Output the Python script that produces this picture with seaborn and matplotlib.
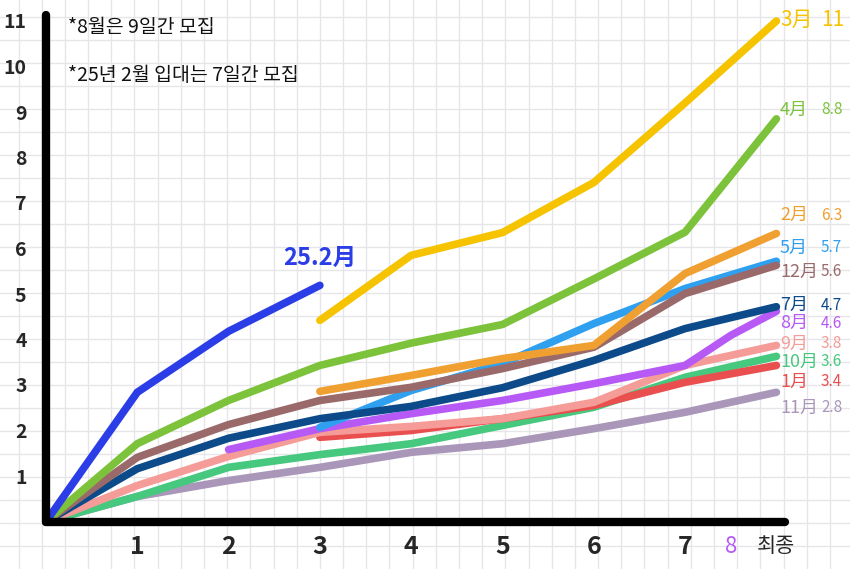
import numpy as np
import pandas as pd
import matplotlib
matplotlib.use('Agg')
import matplotlib.pyplot as plt
import seaborn as sns

# x positions: day 1..7 and the final count ("최종") at 8
days = [0, 1, 2, 3, 4, 5, 6, 7, 8]
nan = np.nan

# values
feb25 = [0, 2.84, 4.18, 5.19]                       # 25.2月
mar = [nan, nan, nan, 4.42, 5.85, 6.35, 7.45, 9.2, 11.0]
apr = [0, 1.71, 2.66, 3.43, 3.92, 4.33, 5.33, 6.36, 8.85]
feb = [nan, nan, nan, 2.86, 3.21, 3.58, 3.87, 5.45, 6.33]
may = [nan, nan, nan, 2.07, 2.88, 3.47, 4.35, 5.12, 5.72]
dec = [0, 1.41, 2.13, 2.66, 2.95, 3.36, 3.83, 5.01, 5.63]
jul = [0, 1.16, 1.83, 2.26, 2.53, 2.94, 3.54, 4.24, 4.72]
aug_x = [2, 3, 4, 5, 6, 7, 7.5, 8]                  # 8月 had 9 days
aug = [1.58, 2.04, 2.37, 2.66, 3.03, 3.43, 4.09, 4.62]
sep = [0, 0.79, 1.43, 1.96, 2.09, 2.26, 2.62, 3.43, 3.87]
oct_ = [0, 0.55, 1.19, 1.47, 1.71, 2.11, 2.51, 3.17, 3.63]
jan = [nan, nan, nan, 1.85, 2.0, 2.26, 2.55, 3.06, 3.43]
nov = [0, 0.55, 0.9, 1.19, 1.52, 1.71, 2.04, 2.4, 2.84]

final_labels = {'3月': '11', '4月': '8.8', '2月': '6.3', '5月': '5.7', '12月': '5.6',
                '7月': '4.7', '8月': '4.6', '9月': '3.8', '10月': '3.6', '1月': '3.4',
                '11月': '2.8'}

x_ticks = [1, 2, 3, 4, 5, 6, 7, 7.5, 8]
x_ticklabels = ['1', '2', '3', '4', '5', '6', '7', '8', '최종']
y_ticks = list(range(1, 12))

colors = {
    '11月': '#a996b9', '10月': '#47c87f', '1月': '#ea4f4f', '9月': '#f59c98',
    '8月': '#b75af5', '5月': '#2fa0f0', '7月': '#0c4a8a', '12月': '#9a6a6a',
    '2月': '#f0a031', '4月': '#7cc23b', '3月': '#f5c300', '25.2月': '#2b3de7',
}

series = [('11月', days, nov), ('10月', days, oct_), ('1月', days, jan),
          ('9月', days, sep), ('8月', aug_x, aug), ('5月', days, may),
          ('7月', days, jul), ('12月', days, dec), ('2月', days, feb),
          ('4月', days, apr), ('3月', days, mar), ('25.2月', days[:4], feb25)]

rows = []
for name, xs, ys in series:
    for x, y in zip(xs, ys):
        if not np.isnan(y):
            rows.append({'series': name, 'x': x, 'y': y})
df = pd.DataFrame(rows)

sns.set_theme(style='white')
plt.rcParams['font.family'] = ['Noto Sans CJK KR', 'DejaVu Sans']

fig = plt.figure(figsize=(8.5, 5.69), dpi=100)

# graph-paper background over the whole figure
bg = fig.add_axes([0, 0, 1, 1])
bg.set_xlim(0, 850)
bg.set_ylim(569, 0)
bg.set_xticks(np.arange(18.6, 850, 23.18))
bg.set_yticks(np.arange(17, 569, 23))
bg.grid(True, color='#e6e6ea', linewidth=1)
bg.tick_params(length=0, labelbottom=False, labelleft=False)
for s in bg.spines.values():
    s.set_visible(False)
bg.set_facecolor('white')

ax = fig.add_axes([46 / 850, (569 - 521.5) / 569, 739 / 850, 506.5 / 569])
ax.set_facecolor('none')
sns.lineplot(data=df, x='x', y='y', hue='series', hue_order=[s[0] for s in series],
             palette=colors, linewidth=5.5, legend=False, estimator=None, sort=False,
             solid_capstyle='round', solid_joinstyle='round', ax=ax)
for line in ax.get_lines():
    line.set_clip_on(False)

ax.set_xlim(0, 739 / 91.3)
ax.set_ylim(0, 506.5 / 45.5)
ax.set_xlabel('')
ax.set_ylabel('')
for side in ['top', 'right']:
    ax.spines[side].set_visible(False)
for side in ['left', 'bottom']:
    ax.spines[side].set_linewidth(6)
    ax.spines[side].set_color('black')
    ax.spines[side].set_capstyle('round')

ax.set_yticks(y_ticks)
ax.set_yticklabels([str(v) for v in y_ticks], fontsize=14, fontweight='bold')
ax.set_xticks(x_ticks)
ax.set_xticklabels(x_ticklabels, fontsize=18, fontweight='bold')
ax.tick_params(axis='y', length=0, pad=14)
ax.tick_params(axis='x', length=0, pad=10)
xt = ax.get_xticklabels()
xt[7].set_color(colors['8月'])
xt[7].set_fontweight('normal')
xt[7].set_fontsize(16)
xt[8].set_fontweight('normal')
xt[8].set_fontsize(15)

# end labels on the right (pixel y positions of the hand-written labels)
label_ypix = {'3月': 20, '4月': 110, '2月': 215, '5月': 248, '12月': 272, '7月': 305,
              '8月': 323, '9月': 344, '10月': 362, '1月': 382, '11月': 408}
big = {'3月': 15, '4月': 13}
for name, val in final_labels.items():
    yy = (521.5 - label_ypix[name]) / 45.5
    ax.text((780 - 46) / 91.3, yy, name, color=colors[name], fontsize=big.get(name, 13),
            ha='left', va='center', clip_on=False)
    ax.text((821 - 46) / 91.3, yy, val, color=colors[name],
            fontsize=15 if name == '3月' else 11,
            ha='left', va='center', clip_on=False)

ax.text((283 - 46) / 91.3, (521.5 - 258) / 45.5, '25.2月', color=colors['25.2月'],
        fontsize=17, fontweight='bold', ha='left', va='center')

ax.text((68 - 46) / 91.3, (521.5 - 28) / 45.5, '*8월은 9일간 모집', fontsize=14,
        ha='left', va='center', color='#111111')
ax.text((68 - 46) / 91.3, (521.5 - 76) / 45.5, '*25년 2월 입대는 7일간 모집', fontsize=14,
        ha='left', va='center', color='#111111')

fig.savefig('out.png', dpi=100)
